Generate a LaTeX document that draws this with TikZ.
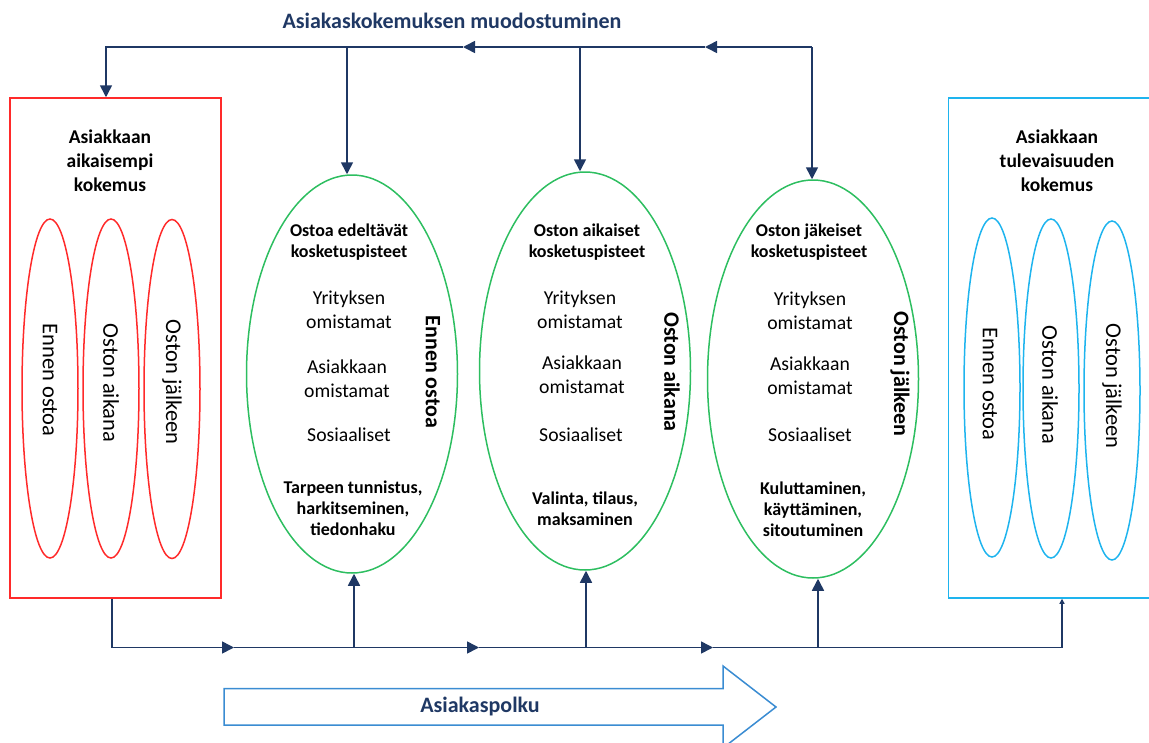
\documentclass[tikz,border=0pt]{standalone}
\usepackage{fontspec}
\setmainfont{Carlito}
\usetikzlibrary{shapes.geometric,arrows.meta,calc}
\definecolor{navy}{HTML}{1F3864}
\definecolor{boxred}{HTML}{FF2A2A}
\definecolor{phasegreen}{HTML}{2DBE60}
\definecolor{skyblue}{HTML}{1EB4EE}
\definecolor{pathblue}{HTML}{3A8CD2}
\begin{document}
\begin{tikzpicture}[x=1pt,y=-1pt,
  flow/.style={draw=navy, line width=1.6pt},
  headtip/.style={-{Triangle[length=12pt,width=12pt]}},
  smalltip/.style={-{Triangle[length=5pt,width=5pt]}},
  stagebox/.style={draw, line width=1.5pt, minimum width=211pt, minimum height=500pt, inner sep=0pt},
  phase/.style={ellipse, draw=phasegreen, line width=1.5pt, minimum width=211pt, minimum height=398pt, inner sep=0pt},
  mini/.style={ellipse, line width=1.5pt, minimum width=56pt, minimum height=339pt, inner sep=0pt},
  body/.style={font=\fontsize{19.7}{24}\selectfont, align=center, inner sep=0pt},
  head/.style={font=\bfseries\fontsize{18}{21}\selectfont, align=center, inner sep=0pt},
  boxtitle/.style={font=\bfseries\fontsize{19.5}{24}\selectfont, align=center, inner sep=0pt},
  vlabel/.style={rotate=-90, font=\fontsize{22.5}{26}\selectfont, inner sep=0pt},
  vphase/.style={rotate=-90, font=\bfseries\fontsize{22}{26}\selectfont, inner sep=0pt}]
\useasboundingbox (0,0) rectangle (1149,742);
\clip (0,0) rectangle (1149,742);

% title
\node[font=\bfseries\fontsize{22}{26}\selectfont, text=navy, anchor=base, inner sep=0pt] (title) at (452,28) {Asiakaskokemuksen muodostuminen};

% earlier experience
\node[stagebox, draw=boxred] (prev) at (115.5,348) {};
\node[boxtitle] (prevtitle) at (110,161) {Asiakkaan\\aikaisempi\\kokemus};
\node[mini, draw=boxred] (pr1) at (50,388.5) {};
\node[mini, draw=boxred] (pr2) at (111,388.5) {};
\node[mini, draw=boxred] (pr3) at (172,389) {};
\node[vlabel] (prt1) at (50,380) {Ennen ostoa};
\node[vlabel] (prt2) at (111,383) {Oston aikana};
\node[vlabel] (prt3) at (172,382) {Oston jälkeen};

% future experience
\node[stagebox, draw=skyblue] (next) at (1054,348) {};
\node[boxtitle] (nexttitle) at (1057,161) {Asiakkaan\\tulevaisuuden\\kokemus};
\node[mini, draw=skyblue] (nx1) at (992,387.5) {};
\node[mini, draw=skyblue] (nx2) at (1051,388.5) {};
\node[mini, draw=skyblue] (nx3) at (1112,390.5) {};
\node[vlabel] (nxt1) at (990,384) {Ennen ostoa};
\node[vlabel] (nxt2) at (1050,385) {Oston aikana};
\node[vlabel] (nxt3) at (1112,386) {Oston jälkeen};

% touchpoint phases
\node[phase] (e1) at (352,374) {};
\node[phase] (e2) at (585,371) {};
\node[phase] (e3) at (813,379) {};

\node[head] (h1) at (349,242) {Ostoa edeltävät\\kosketuspisteet};
\node[body] (y1) at (349,310) {Yrityksen\\omistamat};
\node[body] (a1) at (347,379) {Asiakkaan\\omistamat};
\node[body] (s1) at (349,435) {Sosiaaliset};
\node[head] (p1) at (353,508) {Tarpeen tunnistus,\\harkitseminen,\\tiedonhaku};
\node[vphase] (v1) at (433,372) {Ennen ostoa};

\node[head] (h2) at (587,242) {Oston aikaiset\\kosketuspisteet};
\node[body] (y2) at (580,310) {Yrityksen\\omistamat};
\node[body] (a2) at (582,375) {Asiakkaan\\omistamat};
\node[body] (s2) at (581,435) {Sosiaaliset};
\node[head] (p2) at (585,509) {Valinta, tilaus,\\maksaminen};
\node[vphase] (v2) at (672,372) {Oston aikana};

\node[head] (h3) at (809,242) {Oston jäkeiset\\kosketuspisteet};
\node[body] (y3) at (810,311) {Yrityksen\\omistamat};
\node[body] (a3) at (810,376) {Asiakkaan\\omistamat};
\node[body] (s3) at (810,435) {Sosiaaliset};
\node[head] (p3) at (813,509) {Kuluttaminen,\\käyttäminen,\\sitoutuminen};
\node[vphase] (v3) at (900,374) {Oston jälkeen};

% feedback line along the top
\coordinate (tl) at (106,47);
\coordinate (tr) at ([xshift=-1pt]e3.north |- tl);
\coordinate (tm2) at (705,47);
\coordinate (tm1) at (463,47);
\draw[flow,headtip] (tr) -- (tm2);
\draw[flow,headtip] (tm2) -- (tm1);
\draw[flow,headtip] (tm1) -- (tl) -- (tl |- prev.north);
\draw[flow,headtip] ([xshift=-5pt]e1.north |- tl) -- ([xshift=-5pt]e1.north);
\draw[flow,headtip] ([xshift=-5pt]e2.north |- tl) -- ([xshift=-5pt]e2.north);
\draw[flow,headtip] (tr) -- ([xshift=-1pt]e3.north);

% customer path line along the bottom
\coordinate (bl) at (112,647.5);
\coordinate (bm1) at (234,647.5);
\coordinate (bm2) at (479,647.5);
\coordinate (bm3) at (713,647.5);
\coordinate (bj1) at ([xshift=2pt]e1.south |- bl);
\coordinate (bj2) at ([xshift=1pt]e2.south |- bl);
\coordinate (bj3) at ([xshift=5pt]e3.south |- bl);
\coordinate (br) at (1062,647.5);
\draw[flow,headtip] (prev.south -| bl) -- (bl) -- (bm1);
\draw[flow,headtip] (bm1) -- (bj1) -- ([xshift=2pt]e1.south);
\draw[flow,headtip] (bj1) -- (bm2);
\draw[flow,headtip] (bm2) -- (bm3);
\draw[flow] (bm3) -- (bj3);
\draw[flow,headtip] (bj2) -- ([xshift=1pt]e2.south);
\draw[flow,headtip] (bj3) -- ([xshift=5pt]e3.south);
\draw[flow,smalltip] (bj3) -- (br) -- (br |- next.south);

% big path arrow
\draw[draw=pathblue, line width=1.5pt, fill=white, line join=miter]
  (224,688.5) -- (723,688.5) -- (723,666) -- (776,707) -- (723,748) -- (723,725) -- (224,725) -- cycle;
\node[font=\bfseries\fontsize{22}{26}\selectfont, text=navy, inner sep=0pt] (polku) at (480,707) {Asiakaspolku};
\end{tikzpicture}
\end{document}
